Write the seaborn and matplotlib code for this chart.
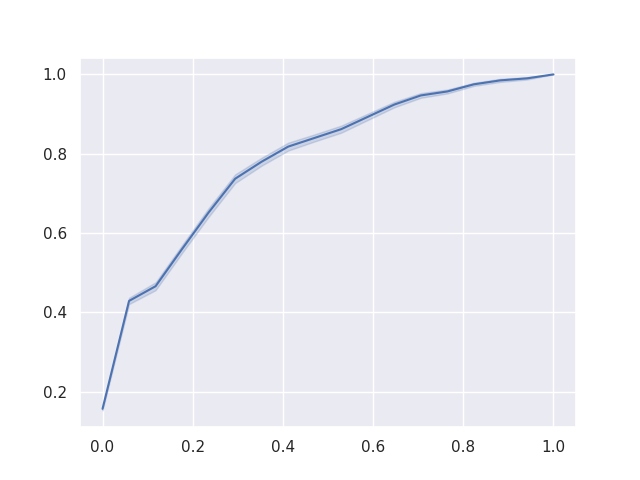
import numpy as np
import pandas as pd
import matplotlib
matplotlib.use("Agg")
import matplotlib.pyplot as plt
import seaborn as sns

sns.set_theme()

# x positions (fractions)
x_vals = [0.0, 0.0588, 0.1176, 0.1765, 0.2353, 0.2941, 0.3529, 0.4118, 0.4706,
          0.5294, 0.5882, 0.6471, 0.7059, 0.7647, 0.8235, 0.8824, 0.9412, 1.0]
# mean curve
mean_vals = [0.157, 0.429, 0.466, 0.560, 0.652, 0.737, 0.780, 0.818, 0.840,
             0.862, 0.893, 0.924, 0.947, 0.957, 0.975, 0.985, 0.990, 1.0]
# spread between runs
spread = [0.004, 0.008, 0.010, 0.010, 0.011, 0.011, 0.010, 0.010, 0.009,
          0.009, 0.008, 0.007, 0.006, 0.005, 0.004, 0.004, 0.003, 0.0]

rows = []
for x, m, s in zip(x_vals, mean_vals, spread):
    for run, off in zip(["a", "b", "c"], [s, 0.0, -s]):
        rows.append({"x": x, "y": m + off, "run": run})
df = pd.DataFrame(rows)

fig, ax = plt.subplots(figsize=(6.4, 4.8), dpi=100)
sns.lineplot(data=df, x="x", y="y", errorbar="sd", ax=ax)
ax.set_xlabel("")
ax.set_ylabel("")
plt.savefig("out.png")
